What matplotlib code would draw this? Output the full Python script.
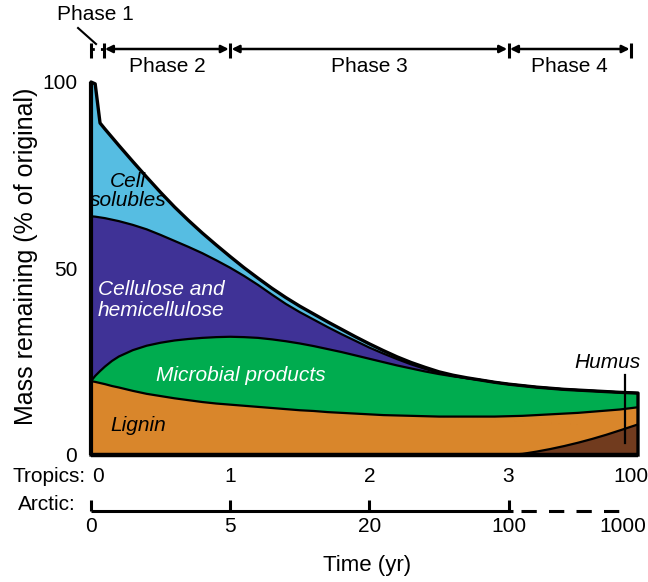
import numpy as np
import matplotlib
matplotlib.use("Agg")
import matplotlib.pyplot as plt

plt.rcParams['font.family'] = ['Liberation Sans', 'DejaVu Sans']

# ---- data (tropics time axis: 0,1,2,3 yr then 100 yr at the right end) ----
time = [0, 0.03, 0.065, 0.1, 0.15, 0.2, 0.3, 0.4, 0.5, 0.6, 0.7, 0.8, 0.9, 1.0,
        1.1, 1.2, 1.3, 1.4, 1.5, 1.6, 1.7, 1.8, 1.9, 2.0, 2.1, 2.2, 2.3, 2.4,
        2.5, 2.6, 2.7, 2.8, 2.9, 3.0, 3.1, 3.2, 3.3, 3.4, 3.5, 3.6, 3.7, 3.8, 3.93]
humus = [0, 0, 0, 0, 0, 0, 0, 0, 0, 0, 0, 0, 0, 0,
         0, 0, 0, 0, 0, 0, 0, 0, 0, 0, 0, 0, 0, 0,
         0, 0, 0, 0, 0, 0.05, 0.3, 0.9, 1.6, 2.4, 3.3, 4.3, 5.4, 6.6, 8.2]
lignin = [19.8, 19.6, 19.3, 19.0, 18.5, 18.1, 17.2, 16.4, 15.8, 15.2, 14.7, 14.2, 13.8, 13.5,
          13.2, 12.9, 12.6, 12.3, 12.0, 11.8, 11.5, 11.3, 11.1, 10.9, 10.7, 10.6, 10.5, 10.4,
          10.3, 10.3, 10.3, 10.3, 10.3, 10.35, 10.2, 9.8, 9.3, 8.7, 8.0, 7.3, 6.5, 5.6, 4.6]
microbial = [0, 1.6, 3.2, 4.7, 6.7, 8.3, 10.9, 12.9, 14.3, 15.5, 16.4, 17.2, 17.8, 18.2,
             18.4, 18.5, 18.4, 18.2, 17.9, 17.4, 16.9, 16.3, 15.6, 14.9, 14.2, 13.4, 12.7, 12.0,
             11.4, 10.8, 10.3, 9.8, 9.2, 8.6, 8.1, 7.5, 7.0, 6.5, 6.1, 5.6, 5.1, 4.6, 3.8]
cellulose = [44.2, 42.7, 41.2, 39.8, 37.9, 36.3, 33.6, 31.2, 28.9, 26.7, 24.7, 22.7, 20.6, 18.5,
             16.4, 14.2, 12.0, 10.0, 8.4, 7.1, 5.9, 4.8, 3.9, 3.0, 2.3, 1.7, 1.1, 0.7,
             0.3, 0.1, 0, 0, 0, 0, 0, 0, 0, 0, 0, 0, 0, 0, 0]
cell_solubles = [36.0, 35.6, 25.3, 23.9, 22.1, 20.3, 17.0, 14.0, 11.4, 9.1, 7.1, 5.4, 4.1, 3.0,
                 2.2, 1.8, 1.7, 1.7, 1.6, 1.5, 1.4, 1.3, 1.1, 1.0, 0.8, 0.6, 0.5, 0.4,
                 0.3, 0.2, 0.1, 0, 0, 0, 0, 0, 0, 0, 0, 0, 0, 0, 0]

tropics_ticks = [0.05, 1, 2, 3, 3.88]
tropics_labels = ['0', '1', '2', '3', '100']
arctic_ticks = [0, 1, 2, 3, 3.82]
arctic_labels = ['0', '5', '20', '100', '1000']
phase_bounds = [0, 0.09, 1, 3, 3.88]
phase_names = ['Phase 1', 'Phase 2', 'Phase 3', 'Phase 4']

colors = ['#713B1E', '#D9862B', '#00AC4F', '#3F3296', '#56BDE2']

# ---- figure ----
W, H = 648, 582
fig = plt.figure(figsize=(W / 100, H / 100), dpi=100)
ax = fig.add_axes([91 / W, (H - 455) / H, (638 - 91) / W, (455 - 82) / H])
ax.set_xlim(0, 3.93)
ax.set_ylim(0, 100)
for s in ax.spines.values():
    s.set_visible(False)

x = np.array(time)
layers = [np.array(humus), np.array(lignin), np.array(microbial),
          np.array(cellulose), np.array(cell_solubles)]
ax.stackplot(x, *layers, colors=colors, linewidth=0, clip_on=False)

cum = np.cumsum(np.vstack(layers), axis=0)
for i in range(len(layers) - 1):
    ax.plot(x, cum[i], color='black', lw=1.6, clip_on=False, solid_capstyle='butt')
top = cum[-1]
ax.plot(np.concatenate([[x[0]], x, [x[-1]]]),
        np.concatenate([[0], top, [0]]),
        color='black', lw=2.4, clip_on=False, solid_joinstyle='round')
ax.plot([x[0], x[-1]], [0, 0], color='black', lw=3.2, clip_on=False, solid_capstyle='butt')
ax.plot([x[0], x[0]], [0, top[0]], color='black', lw=3.0, clip_on=False, solid_capstyle='butt')

# ticks
ax.set_yticks([0, 50, 100])
ax.set_yticklabels(['0', '50', '100'])
ax.set_xticks(tropics_ticks)
ax.set_xticklabels(tropics_labels)
ax.tick_params(axis='both', length=0, labelsize=15)
ax.tick_params(axis='y', pad=10)
ax.tick_params(axis='x', pad=9)

def Y(py):
    return (455 - py) / 3.73

# layer labels
ax.text(0.266, 70.8, 'Cell\nsolubles', style='italic', fontsize=15, color='black',
        ha='center', va='center', linespacing=1.05)
ax.text(0.05, 41.6, 'Cellulose and\nhemicellulose', style='italic', fontsize=15,
        color='white', ha='left', va='center', linespacing=1.15)
ax.text(1.078, 21.4, 'Microbial products', style='italic', fontsize=15, color='white',
        ha='center', va='center')
ax.text(0.338, 8.0, 'Lignin', style='italic', fontsize=15, color='black',
        ha='center', va='center')
ax.text(3.714, 24.9, 'Humus', style='italic', fontsize=15, color='black',
        ha='center', va='center', clip_on=False)
ax.plot([3.836, 3.836], [21.4, 3.2], color='black', lw=1.6, clip_on=False)

# phase bar
yb = Y(49)
for b in phase_bounds:
    ax.plot([b, b], [Y(43), Y(58)], color='black', lw=2.2, clip_on=False,
            solid_capstyle='butt')
ax.plot([phase_bounds[0], phase_bounds[1]], [yb, yb], color='black', lw=2.0,
        ls=(0, (1.2, 2.2)), clip_on=False)
for a, b in zip(phase_bounds[1:-1], phase_bounds[2:]):
    ax.annotate('', xy=(b, yb), xytext=(a, yb), annotation_clip=False,
                arrowprops=dict(arrowstyle='<|-|>', lw=1.8, color='black',
                                mutation_scale=11, shrinkA=1, shrinkB=1))
ax.text(0.03, Y(15), phase_names[0], fontsize=15, ha='center', va='center', clip_on=False)
ax.plot([-0.093, 0.036], [Y(28), Y(44)], color='black', lw=1.5, clip_on=False)
for name, a, b in zip(phase_names[1:], phase_bounds[1:-1], phase_bounds[2:]):
    ax.text((a + b) / 2, Y(66), name, fontsize=15, ha='center', va='center', clip_on=False)

# arctic axis
ya = Y(511)
ax.plot([arctic_ticks[0], arctic_ticks[3] + 0.03], [ya, ya], color='black', lw=2.2,
        clip_on=False, solid_capstyle='butt')
ax.plot([arctic_ticks[3] + 0.09, arctic_ticks[4] + 0.06], [ya, ya], color='black', lw=2.2,
        ls=(0, (5, 4)), clip_on=False)
for t in arctic_ticks[:4]:
    ax.plot([t, t], [ya, Y(500)], color='black', lw=2.2, clip_on=False,
            solid_capstyle='butt')
for t, lab in zip(arctic_ticks, arctic_labels):
    ax.text(t, Y(526), lab, fontsize=15, ha='center', va='center', clip_on=False)

fig.text(86 / W, 1 - 476 / H, 'Tropics:', fontsize=15, ha='right', va='center')
fig.text(76 / W, 1 - 505 / H, 'Arctic:', fontsize=15, ha='right', va='center')
fig.text(367 / W, 1 - 566 / H, 'Time (yr)', fontsize=16, ha='center', va='center')
fig.text(26 / W, 1 - 256 / H, 'Mass remaining (% of original)', fontsize=18,
         rotation=90, ha='center', va='center')

fig.savefig('out.png', dpi=100)
